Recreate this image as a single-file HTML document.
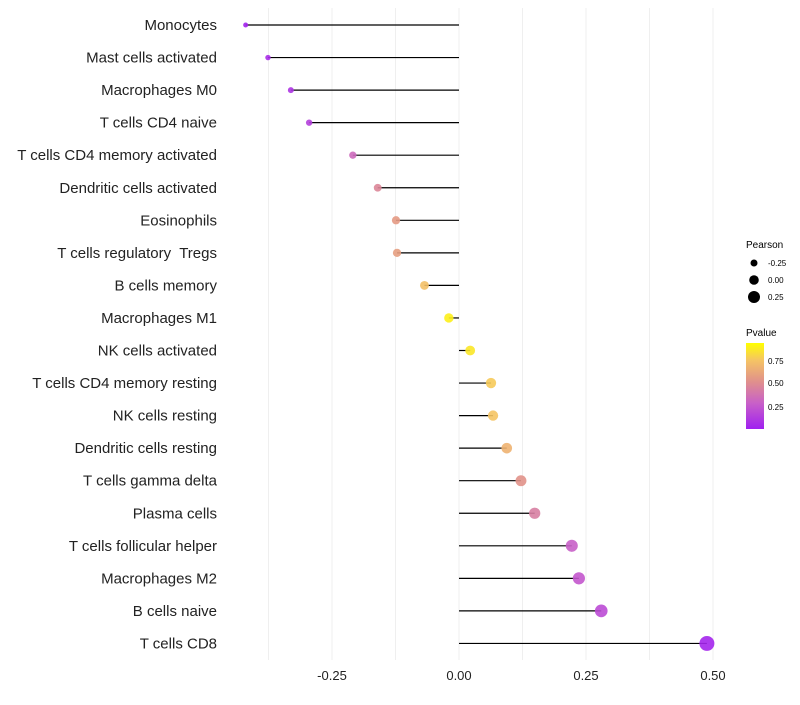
<!DOCTYPE html>
<html><head><meta charset="utf-8"><style>
body{margin:0;background:#fff;font-family:"Liberation Sans",sans-serif}
text{white-space:pre}
</style></head><body>
<svg id="chart" width="800" height="700" xmlns="http://www.w3.org/2000/svg">
<defs><linearGradient id="pg" x1="0" y1="1" x2="0" y2="0">
<stop offset="0" stop-color="#A020F0"/><stop offset="0.3" stop-color="#C860C8"/><stop offset="0.55" stop-color="#E0908C"/><stop offset="0.8" stop-color="#F5C464"/><stop offset="1" stop-color="#FFFF00"/>
</linearGradient></defs>
<g id="grid"></g><g id="marks"></g><g id="labels"></g>
<g font-size="10">
<text x="746" y="248">Pearson</text>
<circle cx="754" cy="263" r="3.5" fill="#000"/><text x="768" y="266" font-size="8">-0.25</text>
<circle cx="754" cy="280" r="4.8" fill="#000"/><text x="768" y="283" font-size="8">0.00</text>
<circle cx="754" cy="297" r="6" fill="#000"/><text x="768" y="300" font-size="8">0.25</text>
<text x="746" y="336">Pvalue</text>
<rect x="746" y="343" width="18" height="86" fill="url(#pg)"/>
<text x="768" y="364" font-size="8">0.75</text><text x="768" y="386" font-size="8">0.50</text><text x="768" y="410" font-size="8">0.25</text>
</g>
</svg>
<script>
const categories=["Monocytes","Mast cells activated","Macrophages M0","T cells CD4 naive","T cells CD4 memory activated","Dendritic cells activated","Eosinophils","T cells regulatory  Tregs","B cells memory","Macrophages M1","NK cells activated","T cells CD4 memory resting","NK cells resting","Dendritic cells resting","T cells gamma delta","Plasma cells","T cells follicular helper","Macrophages M2","B cells naive","T cells CD8"];
const pearson=[-0.42,-0.376,-0.331,-0.295,-0.209,-0.16,-0.124,-0.122,-0.068,-0.02,0.022,0.063,0.067,0.094,0.122,0.149,0.222,0.236,0.28,0.488];
const pvalue=[0.02,0.06,0.1,0.15,0.35,0.5,0.6,0.62,0.78,0.95,0.92,0.82,0.8,0.72,0.56,0.46,0.3,0.26,0.2,0.03];
const xTicks=[-0.25,0,0.25,0.5];
const xTickLabels=["-0.25","0.00","0.25","0.50"];
const xGrid=[-0.375,-0.25,-0.125,0,0.125,0.25,0.375,0.5];
const NS="http://www.w3.org/2000/svg";
const xs=v=>459+v*508;
const ys=i=>25+i*32.55;
const rs=v=>4.8+v*5.5;
const stops=[[0,[160,32,240]],[0.3,[200,96,200]],[0.55,[224,144,140]],[0.8,[245,196,100]],[1,[255,255,0]]];
function col(p){for(let i=1;i<stops.length;i++){if(p<=stops[i][0]){const a=stops[i-1],b=stops[i],t=(p-a[0])/(b[0]-a[0]);return "rgb("+a[1].map((c,k)=>Math.round(c+(b[1][k]-c)*t)).join(",")+")";}}return "rgb(255,255,0)";}
function mk(t,a,p){const e=document.createElementNS(NS,t);for(const k in a)e.setAttribute(k,a[k]);p.appendChild(e);return e;}
const g=document.getElementById("grid"),m=document.getElementById("marks"),l=document.getElementById("labels");
xGrid.forEach(v=>{const e=mk("line",{x1:xs(v),x2:xs(v),y1:8,y2:660,stroke:"#efefef","stroke-width":1},g);

});
xTicks.forEach((v,i)=>{const t=mk("text",{x:xs(v),y:680,"text-anchor":"middle","font-size":13,fill:"#222"},l);t.textContent=xTickLabels[i];

});
categories.forEach((c,i)=>{const y=ys(i);
const t=mk("text",{x:217,y:y+5,"text-anchor":"end","font-size":15,fill:"#222"},l);t.textContent=c;


const ln=mk("line",{x1:xs(0),x2:xs(pearson[i]),y1:y,y2:y,stroke:"#000","stroke-width":1.2},m);


const d=mk("circle",{cx:xs(pearson[i]),cy:y,r:Math.max(1.5,rs(pearson[i])),fill:col(pvalue[i]),"fill-opacity":0.9},m);

});
</script>
</body></html>
